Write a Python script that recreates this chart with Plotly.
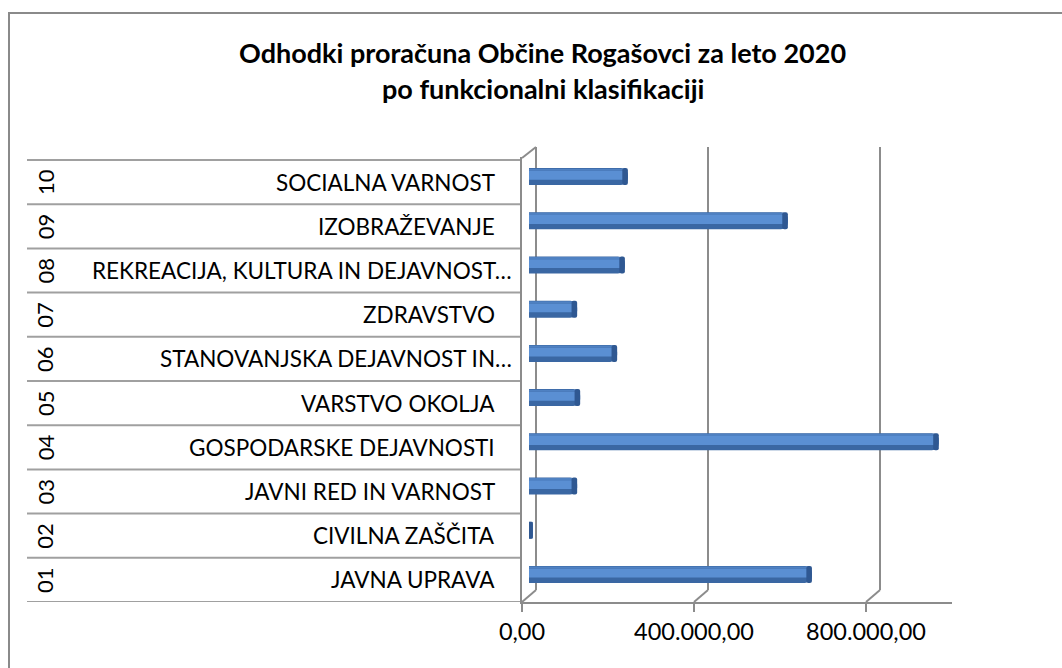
import plotly.graph_objects as go

# ---------------- data ----------------
codes = ["01", "02", "03", "04", "05", "06", "07", "08", "09", "10"]
names = [
    "JAVNA UPRAVA",
    "CIVILNA ZAŠČITA",
    "JAVNI RED IN VARNOST",
    "GOSPODARSKE DEJAVNOSTI",
    "VARSTVO OKOLJA",
    "STANOVANJSKA DEJAVNOST IN…",
    "ZDRAVSTVO",
    "REKREACIJA, KULTURA IN DEJAVNOST…",
    "IZOBRAŽEVANJE",
    "SOCIALNA VARNOST",
]
values = [658000, 9000, 112000, 953000, 119000, 205000, 112000, 223000, 602000, 230000]
tick_values = [0, 400000, 800000]
axis_max = 1000000
title_lines = ["Odhodki proračuna Občine Rogašovci za leto 2020",
               "po funkcionalni klasifikaciji"]

# ---------------- layout helpers ----------------
W, H = 1062, 668
def fx(px):
    return px / W
def fy(py):
    return 1 - py / H

FONT = "Lato"
GRID = "#8c8c8c"
pos = list(range(len(codes)))

fig = go.Figure()

bar_w = 0.385
fig.add_trace(go.Bar(x=values, y=pos, orientation="h", xaxis="x", yaxis="y2",
                     width=bar_w, offset=-bar_w / 2,
                     marker=dict(color="#3a67a3", line=dict(width=0), cornerradius=7),
                     hoverinfo="skip", showlegend=False))
fig.add_trace(go.Bar(x=[max(v - 9000, 0) for v in values], y=pos, orientation="h", xaxis="x", yaxis="y2",
                     width=0.2, offset=-0.07,
                     marker=dict(color="#5a8fd3", line=dict(width=0)),
                     hoverinfo="skip", showlegend=False))
fig.add_trace(go.Bar(x=[max(v - 9000, 0) for v in values], y=pos, orientation="h", xaxis="x", yaxis="y2",
                     width=0.05, offset=0.13,
                     marker=dict(color="#4f81c2", line=dict(width=0)),
                     hoverinfo="skip", showlegend=False))
cap = 13000
fig.add_trace(go.Bar(x=[min(v, cap) for v in values], base=[max(v - cap, 0) for v in values],
                     y=pos, orientation="h", xaxis="x", yaxis="y2",
                     width=bar_w, offset=-bar_w / 2,
                     marker=dict(color="#2f5892", line=dict(width=0), cornerradius=7),
                     hoverinfo="skip", showlegend=False))

shapes = []
shapes.append(dict(type="rect", xref="paper", yref="paper",
                   x0=fx(9), x1=fx(1075), y0=fy(13), y1=fy(690),
                   line=dict(color="#8a8a8a", width=2), layer="below"))
for i in range(len(codes) + 1):
    shapes.append(dict(type="line", xref="paper", yref="y",
                       x0=fx(27), x1=fx(522), y0=i - 0.5, y1=i - 0.5,
                       line=dict(color="#a0a0a0", width=2), layer="below"))
scale = 430 / axis_max
for v in tick_values:
    xb = 536 + v * scale
    xf = 522 + v * scale
    shapes.append(dict(type="line", xref="paper", yref="paper",
                       x0=fx(xb), x1=fx(xb), y0=fy(147), y1=fy(590),
                       line=dict(color=GRID, width=2), layer="below"))
    shapes.append(dict(type="line", xref="paper", yref="paper",
                       x0=fx(xb), x1=fx(xf), y0=fy(590), y1=fy(602),
                       line=dict(color=GRID, width=2), layer="below"))
shapes.append(dict(type="line", xref="paper", yref="paper",
                   x0=fx(522), x1=fx(536), y0=fy(158), y1=fy(147),
                   line=dict(color=GRID, width=2), layer="below"))

annotations = []
for i, (c, n) in enumerate(zip(codes, names)):
    annotations.append(dict(text=c, xref="paper", yref="y", x=fx(45), y=i,
                            textangle=-90, showarrow=False, xanchor="center", yanchor="middle",
                            font=dict(family=FONT, size=22, color="#000")))
    annotations.append(dict(text=n, xref="paper", yref="y",
                            x=fx(514 if n.endswith("…") else 497), y=i,
                            showarrow=False, xanchor="right", yanchor="middle",
                            font=dict(family=FONT, size=22.5, color="#000")))
annotations.append(dict(text="<b>" + title_lines[0] + "</b>", xref="paper", yref="paper",
                        x=fx(542), y=fy(52), showarrow=False, xanchor="center", yanchor="middle",
                        font=dict(family=FONT, size=27, color="#000")))
annotations.append(dict(text="<b>" + title_lines[1] + "</b>", xref="paper", yref="paper",
                        x=fx(543), y=fy(88), showarrow=False, xanchor="center", yanchor="middle",
                        font=dict(family=FONT, size=27, color="#000")))

fig.update_layout(
    width=W, height=H,
    autosize=False,
    margin=dict(l=0, r=0, t=0, b=0, pad=0, autoexpand=False),
    paper_bgcolor="white", plot_bgcolor="rgba(0,0,0,0)",
    barmode="overlay",
    separators=",.",
    showlegend=False,
    xaxis=dict(domain=[fx(529), fx(959)], range=[0, axis_max], anchor="y2",
               visible=False, fixedrange=True, automargin=False),
    yaxis2=dict(domain=[fy(596.5), fy(154.5)], range=[-0.5, len(codes) - 0.5], anchor="x",
                visible=False, automargin=False),
    xaxis2=dict(domain=[fx(522), fx(952)], range=[0, axis_max], anchor="y",
                tickvals=tick_values, tickformat=",.2f", automargin=False,
                showline=True, linecolor=GRID, linewidth=2,
                ticks="outside", ticklen=8, tickwidth=2, tickcolor=GRID,
                showgrid=False, zeroline=False,
                tickfont=dict(family=FONT, size=23.5, color="#000")),
    yaxis=dict(domain=[fy(602), fy(157)], range=[-0.5, len(codes) - 0.5 + 0.068], anchor="x2",
               showline=True, linecolor=GRID, linewidth=2, automargin=False,
               showticklabels=False, ticks="", showgrid=False, zeroline=False),
    shapes=shapes,
    annotations=annotations,
)

fig.write_html("out.html", config={"responsive": False, "displayModeBar": False},
               post_script="document.body.style.margin='0px';document.body.style.overflow='hidden';")
